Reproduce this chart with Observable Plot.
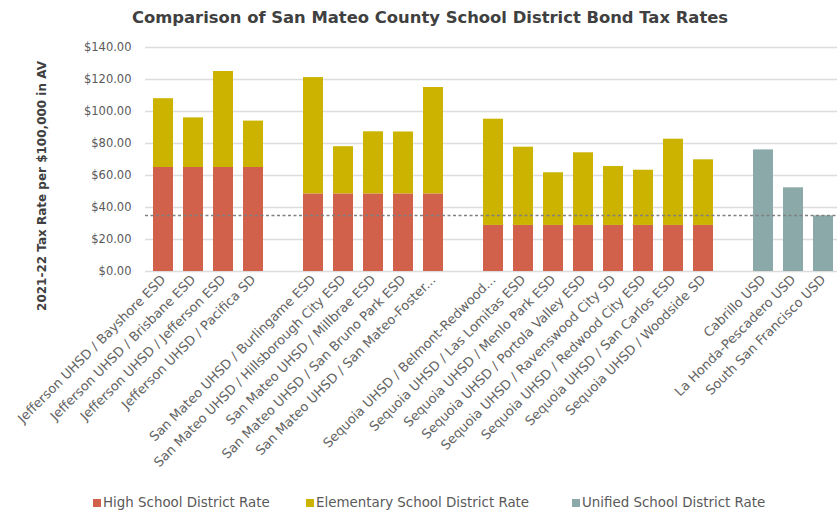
<!DOCTYPE html>
<html>
<head>
<meta charset="utf-8">
<script src="https://cdn.jsdelivr.net/npm/d3@7"></script>
<script src="https://cdn.jsdelivr.net/npm/@observablehq/plot@0.6"></script>
<style>
  html, body { margin: 0; padding: 0; background: #fff; overflow: hidden; width: 837px; height: 512px; }
  #title { width: 837px; box-sizing: border-box; padding-left: 23px; height: 34px; line-height: 36px; text-align: center;
           font-family: "DejaVu Sans", sans-serif; font-weight: bold; font-size: 16.4px; color: #404040; white-space: nowrap; }
  #chart { height: 434px; }
  #legend { position: relative; height: 20px; margin-top: 25px; font-family: "DejaVu Sans", sans-serif; font-size: 13.4px; color: #595959; }
  #legend .item { position: absolute; top: 0; line-height: 20px; white-space: nowrap; }
  #legend .sw { display: inline-block; width: 8px; height: 8px; margin-right: 2px; vertical-align: 0px; }
</style>
</head>
<body>
<div id="title">Comparison of San Mateo County School District Bond Tax Rates</div>
<div id="chart"></div>
<div id="legend"></div>
<script>
// ---- data ----
const districts = [
  "Jefferson UHSD / Bayshore ESD",
  "Jefferson UHSD / Brisbane ESD",
  "Jefferson UHSD / Jefferson ESD",
  "Jefferson UHSD / Pacifica SD",
  "gap-1",
  "San Mateo UHSD / Burlingame ESD",
  "San Mateo UHSD / Hillsborough City ESD",
  "San Mateo UHSD / Millbrae ESD",
  "San Mateo UHSD / San Bruno Park ESD",
  "San Mateo UHSD / San Mateo-Foster...",
  "gap-2",
  "Sequoia UHSD / Belmont-Redwood...",
  "Sequoia UHSD / Las Lomitas ESD",
  "Sequoia UHSD / Menlo Park ESD",
  "Sequoia UHSD / Portola Valley ESD",
  "Sequoia UHSD / Ravenswood City SD",
  "Sequoia UHSD / Redwood City ESD",
  "Sequoia UHSD / San Carlos ESD",
  "Sequoia UHSD / Woodside SD",
  "gap-3",
  "Cabrillo USD",
  "La Honda-Pescadero USD",
  "South San Francisco USD"
];
const highSchoolRate = [65, 65, 65, 65, null, 48.5, 48.5, 48.5, 48.5, 48.5, null,
  28.8, 28.8, 28.8, 28.8, 28.8, 28.8, 28.8, 28.8, null, null, null, null];
const elementaryRate = [43, 31, 60, 29, null, 72.7, 29.5, 38.8, 38.7, 66.5, null,
  66.4, 48.9, 32.9, 45.4, 36.8, 34.5, 53.9, 41, null, null, null, null];
const unifiedRate = [null, null, null, null, null, null, null, null, null, null, null,
  null, null, null, null, null, null, null, null, null, 76, 52.3, 34.8];
const seriesNames = ["High School District Rate", "Elementary School District Rate", "Unified School District Rate"];
const seriesColors = ["#D1614A", "#CBB300", "#8BA9A9"];
const referenceRate = [35];
const yTicks = [0, 20, 40, 60, 80, 100, 120, 140];
const yLabel = "2021-22 Tax Rate per $100,000 in AV";

// ---- tidy rows ----
const seriesValues = [highSchoolRate, elementaryRate, unifiedRate];
const rows = [];
districts.forEach((d, i) => {
  seriesValues.forEach((vals, s) => {
    if (vals[i] != null) rows.push({district: d, series: seriesNames[s], value: vals[i]});
  });
});

const H = 434, MT = 13, MB = 197, ML = 145;
const chart = Plot.plot({
  width: 842,
  height: H,
  marginTop: MT,
  marginBottom: MB,
  marginLeft: ML,
  marginRight: 0,
  style: {fontFamily: "DejaVu Sans, sans-serif", fontSize: "12px", color: "#595959", background: "#fff", maxWidth: "none", overflow: "visible"},
  x: {domain: districts, paddingInner: 0.32, paddingOuter: 0.157, align: 0.5},
  y: {domain: [0, 140]},
  color: {domain: seriesNames, range: seriesColors},
  marks: [
    Plot.ruleY(yTicks, {stroke: "#dcdcdc", strokeWidth: 1.3}),
    Plot.barY(rows, {x: "district", y: "value", fill: "series"}),
    Plot.ruleY(referenceRate, {stroke: "#808080", strokeWidth: 1.3, strokeDasharray: "3,2.5"}),
    Plot.axisY({ticks: yTicks, tickFormat: d3.format("$,.2f"), tickSize: 0, tickPadding: 14, fontSize: 11.5, label: null, fill: "#595959"}),
    Plot.axisX({tickSize: 0, tickRotate: -45, tickPadding: 6, fontSize: 13, label: null, fill: "#646464",
      tickFormat: d => d.startsWith("gap") ? "" : d})
  ]
});
document.getElementById("chart").appendChild(chart);

// y-axis title
d3.select(chart).append("text")
  .attr("transform", `translate(42,${(MT + (H - MB)) / 2 + 27}) rotate(-90)`)
  .attr("text-anchor", "middle")
  .attr("dominant-baseline", "middle")
  .attr("font-family", "DejaVu Sans, sans-serif")
  .attr("font-weight", "bold")
  .attr("font-size", 12)
  .attr("fill", "#404040")
  .text(yLabel);

// ---- legend ----
const legendLeft = [93, 306, 572];
const legend = document.getElementById("legend");
seriesNames.forEach((name, i) => {
  const item = document.createElement("span");
  item.className = "item";
  item.style.left = legendLeft[i] + "px";
  const sw = document.createElement("span");
  sw.className = "sw";
  sw.style.background = seriesColors[i];
  item.appendChild(sw);
  item.appendChild(document.createTextNode(name));
  legend.appendChild(item);
});
</script>
</body>
</html>
